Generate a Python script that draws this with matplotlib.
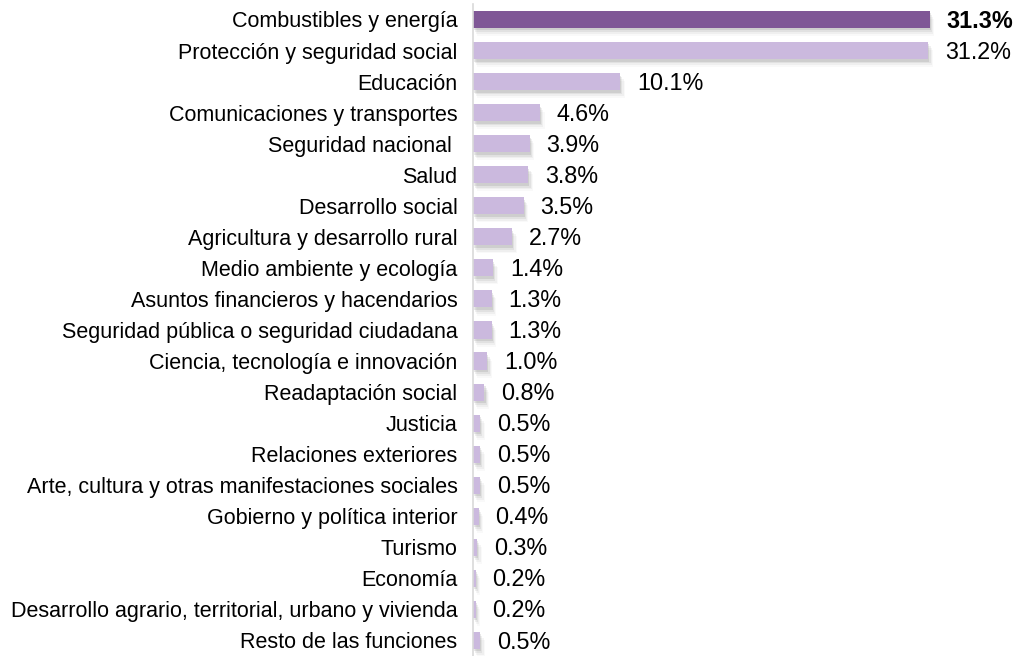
import numpy as np
import matplotlib.pyplot as plt

plt.rcParams['font.family'] = ['Liberation Sans', 'DejaVu Sans']

categorias = [
    "Combustibles y energía",
    "Protección y seguridad social",
    "Educación",
    "Comunicaciones y transportes",
    "Seguridad nacional ",
    "Salud",
    "Desarrollo social",
    "Agricultura y desarrollo rural",
    "Medio ambiente y ecología",
    "Asuntos financieros y hacendarios",
    "Seguridad pública o seguridad ciudadana",
    "Ciencia, tecnología e innovación",
    "Readaptación social",
    "Justicia",
    "Relaciones exteriores",
    "Arte, cultura y otras manifestaciones sociales",
    "Gobierno y política interior",
    "Turismo",
    "Economía",
    "Desarrollo agrario, territorial, urbano y vivienda",
    "Resto de las funciones",
]
valores = [31.3, 31.2, 10.1, 4.6, 3.9, 3.8, 3.5, 2.7, 1.4, 1.3, 1.3, 1.0,
           0.8, 0.5, 0.5, 0.5, 0.4, 0.3, 0.2, 0.2, 0.5]

oscuro = "#7F5796"
claro = "#CBB9DE"
colores = [oscuro] + [claro] * (len(valores) - 1)

fig = plt.figure(figsize=(10.21, 6.56), dpi=100)
ax = fig.add_axes([0.463, 0.0, 0.529, 0.994])

y = np.arange(len(valores))
alto = 0.55

# sombra suave
for dx, dy, a in [(0.08, 0.08, 0.12), (0.16, 0.14, 0.08), (0.24, 0.20, 0.05), (0.32, 0.26, 0.03)]:
    ax.barh(y + dy, valores, height=alto, left=dx, color="#444444", alpha=a,
            zorder=1, linewidth=0)

ax.barh(y, valores, height=alto, color=colores, zorder=2, linewidth=0)

for i, v in enumerate(valores):
    ax.text(v + 1.15, i + 0.05, f"{v:.1f}%", va="center", ha="left", fontsize=16.8,
            fontweight="bold" if i == 0 else "normal", color="black")

ax.set_xlim(0, 37)
ax.set_ylim(len(valores) - 0.5, -0.5)
ax.set_yticks(y)
ax.set_yticklabels(categorias, fontsize=15.5)
ax.tick_params(axis="y", length=0, pad=11)
ax.set_xticks([])
for s in ["top", "right", "bottom"]:
    ax.spines[s].set_visible(False)
ax.spines["left"].set_color("#D9D9D9")
ax.spines["left"].set_linewidth(1.2)

fig.savefig("out.png", dpi=100)
